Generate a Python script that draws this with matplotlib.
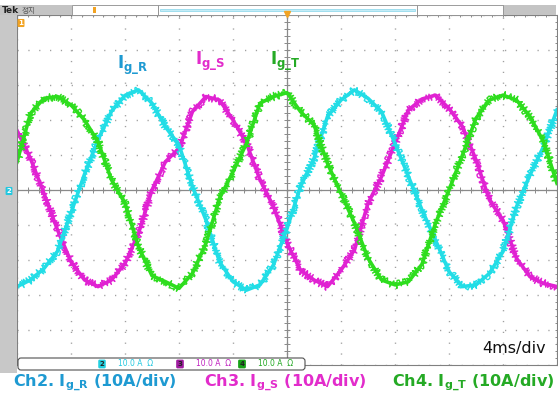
import matplotlib.pyplot as plt
from matplotlib.patches import Rectangle, FancyBboxPatch
import numpy as np

plt.rcParams['font.family'] = ['DejaVu Sans', 'Noto Sans CJK KR']

# time axis in ms (4 ms/div, 10 div), currents in A (10 A/div)
t_ms = list(range(0, 41))
i_r = [-27.6, -25.7, -22.4, -17.5, -6.5, 4.5, 14.3, 22.5, 27.0, 28.6, 24.8,
       18.0, 12.9, 1.0, -8.6, -20.5, -26.2, -28.6, -27.1, -21.4, -11.0,
       1.0, 9.0, 21.0, 25.7, 28.6, 26.2, 22.4, 13.3, 3.8, -5.7,
       -14.3, -23.3, -27.6, -27.1, -23.8, -17.6, -4.8, 4.3, 12.4, 22.9]
i_s = [17.0, 9.0, -1.0, -11.4, -20.5, -25.7, -27.6, -25.7, -21.0, -12.4, 0.0,
       8.1, 11.9, 22.4, 26.7, 25.7, 20.0, 13.3, 2.9, -4.8, -15.2,
       -22.9, -25.7, -27.6, -22.9, -17.1, -3.8, 3.8, 13.3, 22.9, 26.0,
       27.1, 23.3, 18.1, 8.6, -2.9, -8.6, -19.5, -24.8, -26.7, -27.6]
i_t = [8.0, 21.9, 26.2, 26.7, 24.3, 20.0, 13.8, 2.9, -3.8, -16.2, -24.5,
       -26.2, -28.1, -23.8, -15.2, -2.4, 5.2, 13.3, 24.8, 26.7, 27.8,
       22.4, 18.6, 7.6, -1.0, -9.5, -19.5, -25.7, -27.1, -26.2, -21.2,
       -9.5, 0.0, 10.0, 20.5, 25.7, 27.1, 25.7, 21.0, 13.8, 1.9]

names = ['g\\_R', 'g\\_S', 'g\\_T']
trace_colors = ['#22DDE6', '#E022D2', '#2EDD1E']
text_colors = ['#1E9AD2', '#E22CCB', '#25AA25']

fig = plt.figure(figsize=(5.58, 3.95), dpi=100)
ax = fig.add_axes([17 / 558, 1 - 365 / 395, 540 / 558, 350 / 395])
ax.set_xlim(0, 40)
ax.set_ylim(-50, 50)
ax.set_xticks(np.arange(0, 41, 4))
ax.set_yticks(np.arange(-50, 51, 10))
ax.tick_params(length=0, labelbottom=False, labelleft=False)
ax.grid(True, color='#a0a0a0', linestyle=(0, (0.9, 6.9)), linewidth=1.0)
for s in ax.spines.values():
    s.set_color('#808080')
    s.set_linewidth(0.8)

# center crosshair with small ticks
ax.axhline(0, color='#8a8a8a', lw=0.9)
ax.axvline(20, color='#8a8a8a', lw=0.9)
mx = np.arange(0, 40.01, 0.8)
my = np.arange(-50, 50.01, 2)
ax.plot(mx, np.zeros_like(mx), ls='none', marker='|', ms=4, color='#8a8a8a', mew=0.7)
ax.plot(np.full_like(my, 20.0), my, ls='none', marker='_', ms=4, color='#8a8a8a', mew=0.7)
ax.plot(mx, np.full_like(mx, 50.0), ls='none', marker='|', ms=3, color='#8a8a8a', mew=0.7)
ax.plot(np.full_like(my, 40.0), my, ls='none', marker='_', ms=3, color='#8a8a8a', mew=0.7)

# noisy scope traces: solid band plus a jittered hairline on top
for vals, c in zip([i_s, i_r, i_t], [trace_colors[1], trace_colors[0], trace_colors[2]]):
    ax.plot(t_ms, vals, color=c, lw=2.6, solid_joinstyle='round')
    ln, = ax.plot(t_ms, vals, color=c, lw=1.0)
    ln.set_sketch_params(scale=4.0, length=0.8, randomness=3)

# overlay for scope decorations, in pixel coordinates
ov = fig.add_axes([0, 0, 1, 1], zorder=3)
ov.set_xlim(0, 558)
ov.set_ylim(395, 0)
ov.axis('off')
ov.patch.set_alpha(0)

ov.add_patch(Rectangle((0, 15), 17, 358, fc='#c8c8c8', ec='none'))
ov.add_patch(Rectangle((0, 5), 72, 10, fc='#c4c4c4', ec='none'))
ov.add_patch(Rectangle((503, 5), 53, 10, fc='#c4c4c4', ec='none'))
for x0, w in [(72, 86), (158, 259), (417, 86)]:
    ov.add_patch(Rectangle((x0, 5), w, 10, fc='white', ec='#8c8c8c', lw=0.6))
ov.add_patch(Rectangle((160, 8.5), 255, 2.5, fc='#c4ecf6', ec='#86d4ea', lw=0.5))
ov.add_patch(Rectangle((93, 7), 3, 6, fc='#F2A322', ec='none'))
ov.plot([287], [14], marker='v', ms=4, color='#F2A322')
ov.text(2, 10.5, 'Tek', fontsize=6.5, fontweight='bold', va='center', color='#222222')
ov.text(22, 10.5, '정지', fontsize=5.5, va='center', color='#555555',
        family=['Noto Sans CJK KR', 'DejaVu Sans'])
ov.text(21, 23, '1', fontsize=5, fontweight='bold', color='white', ha='center', va='center',
        bbox=dict(boxstyle='round,pad=0.15', fc='#F2A322', ec='none'))
ov.text(9, 191, '2', fontsize=5, fontweight='bold', color='white', ha='center', va='center',
        bbox=dict(boxstyle='round,pad=0.15', fc='#22C8E0', ec='none'))

# channel labels inside the screen
for (x, y), n, c in zip([(117, 65), (195, 61), (270, 61)], names, text_colors):
    ov.text(x, y, r'$\mathbf{I}_{\mathbf{' + n + '}}$', fontsize=12, color=c, va='center')

# channel readout box
ov.add_patch(FancyBboxPatch((18, 358), 287, 12, boxstyle='round,pad=0,rounding_size=3',
                            fc='white', ec='#505050', lw=0.8))
for cx, num, fc, tc in [(102, '2', '#22D0E0', '#22C8E0'), (180, '3', '#A01CA0', '#C020C0'),
                        (242, '4', '#18A018', '#22A822')]:
    ov.text(cx, 364, num, fontsize=5, fontweight='bold', color='#222222', ha='center', va='center',
            bbox=dict(boxstyle='round,pad=0.2', fc=fc, ec='none'))
    ov.text(cx + 16, 364, '10.0 A  \u03a9', fontsize=5.5, color=tc, va='center')

ov.text(514, 349, '4ms/div', fontsize=11.5, fontweight='medium', color='#111111',
        ha='center', va='center')

for x, ch, n, c in zip([95, 285, 473], ['Ch2.', 'Ch3.', 'Ch4.'], names, text_colors):
    ov.text(x, 383, ch + r' I$_{\mathbf{' + n + '}}$ (10A/div)', fontsize=11.5,
            fontweight='bold', color=c, ha='center', va='center')

fig.savefig('out.png', dpi=100)
